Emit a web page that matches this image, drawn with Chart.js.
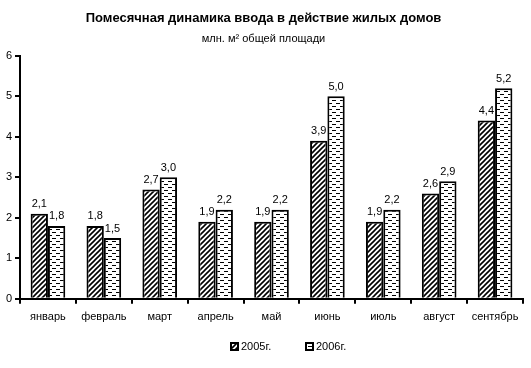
<!DOCTYPE html>
<html lang="ru">
<head>
<meta charset="UTF-8">
<title>chart</title>
<script src="https://cdn.jsdelivr.net/npm/chart.js"></script>
<style>
  * { margin: 0; padding: 0; }
  body { background: #fff; }
</style>
</head>
<body>
<canvas id="myChart" width="531" height="368"></canvas>
<script>
  var months = ['январь', 'февраль', 'март', 'апрель', 'май', 'июнь', 'июль', 'август', 'сентябрь'];
  var values2005 = [2.1, 1.8, 2.7, 1.9, 1.9, 3.9, 1.9, 2.6, 4.4];
  var values2006 = [1.8, 1.5, 3.0, 2.2, 2.2, 5.0, 2.2, 2.9, 5.2];
  var yTicks = [0, 1, 2, 3, 4, 5, 6];

  var FONT = '"Liberation Sans", Arial, sans-serif';

  // diagonal hatch for 2005
  function hatch() {
    var c = document.createElement('canvas');
    c.width = 5; c.height = 5;
    var g = c.getContext('2d');
    g.fillStyle = '#fff';
    g.fillRect(0, 0, 5, 5);
    g.strokeStyle = '#000';
    g.lineWidth = 1.6;
    g.beginPath();
    g.moveTo(-1, 6); g.lineTo(6, -1);
    g.moveTo(-1, 1); g.lineTo(1, -1);
    g.moveTo(4, 6); g.lineTo(6, 4);
    g.stroke();
    return g.createPattern(c, 'repeat');
  }

  // short horizontal dashes for 2006
  function dashes() {
    var c = document.createElement('canvas');
    c.width = 8; c.height = 6;
    var g = c.getContext('2d');
    g.fillStyle = '#fff';
    g.fillRect(0, 0, 8, 6);
    g.fillStyle = '#000';
    g.fillRect(0, 1, 4, 1);
    g.fillRect(4, 4, 4, 1);
    return g.createPattern(c, 'repeat');
  }

  var valueLabels = {
    id: 'valueLabels',
    afterDatasetsDraw: function (chart) {
      var ctx = chart.ctx;
      ctx.save();
      ctx.font = '11px ' + FONT;
      ctx.fillStyle = '#000';
      ctx.textAlign = 'center';
      ctx.textBaseline = 'bottom';
      chart.data.datasets.forEach(function (ds, i) {
        chart.getDatasetMeta(i).data.forEach(function (bar, j) {
          ctx.fillText(ds.data[j].toFixed(1).replace('.', ','), bar.x, bar.y - 4);
        });
      });
      ctx.restore();
    }
  };

  // legend drawn like the Excel one: small boxes, wide gaps
  var bottomLegend = {
    id: 'bottomLegend',
    afterDraw: function (chart) {
      var ctx = chart.ctx;
      var x = 231, y = 347;
      ctx.save();
      ctx.font = '11px ' + FONT;
      ctx.textBaseline = 'middle';
      ctx.textAlign = 'left';
      chart.data.datasets.forEach(function (ds) {
        ctx.fillStyle = ds.backgroundColor;
        ctx.fillRect(x, y - 4, 7, 7);
        ctx.strokeStyle = '#000';
        ctx.lineWidth = 2;
        ctx.strokeRect(x, y - 4, 7, 7);
        ctx.fillStyle = '#000';
        ctx.fillText(ds.label, x + 10, y);
        x += 75;
      });
      ctx.restore();
    }
  };

  var ctx = document.getElementById('myChart').getContext('2d');
  new Chart(ctx, {
    type: 'bar',
    data: {
      labels: months,
      datasets: [{
        label: '2005г.',
        data: values2005,
        backgroundColor: hatch(),
        borderColor: '#000',
        borderWidth: 2
      }, {
        label: '2006г.',
        data: values2006,
        backgroundColor: dashes(),
        borderColor: '#000',
        borderWidth: 2
      }]
    },
    options: {
      responsive: false,
      animation: false,
      layout: { padding: { left: 4, right: 8, top: 0, bottom: 37 } },
      datasets: {
        bar: { categoryPercentage: 0.62, barPercentage: 1.0 }
      },
      scales: {
        x: {
          grid: { offset: true, drawOnChartArea: false, color: '#000', tickLength: 5, lineWidth: 2 },
          border: { color: '#000', width: 2 },
          ticks: { color: '#000', font: { family: FONT, size: 11 }, padding: 7, maxRotation: 0 }
        },
        y: {
          min: 0,
          max: 6,
          afterBuildTicks: function (scale) {
            scale.ticks = yTicks.map(function (v) { return { value: v }; });
          },
          afterFit: function (scale) { scale.width = 16; },
          grid: { drawOnChartArea: false, color: '#000', tickLength: 5, lineWidth: 2 },
          border: { color: '#000', width: 2 },
          ticks: { color: '#000', font: { family: FONT, size: 11 }, padding: 3 }
        }
      },
      plugins: {
        title: {
          display: true,
          text: 'Помесячная динамика ввода в действие жилых домов',
          color: '#000',
          font: { family: FONT, size: 13, weight: 'bold' },
          padding: { top: 11, bottom: 6 }
        },
        subtitle: {
          display: true,
          text: 'млн. м² общей площади',
          color: '#000',
          font: { family: FONT, size: 11 },
          padding: { top: 0, bottom: 10 }
        },
        legend: { display: false },
        tooltip: { enabled: false }
      }
    },
    plugins: [valueLabels, bottomLegend]
  });
</script>
</body>
</html>
